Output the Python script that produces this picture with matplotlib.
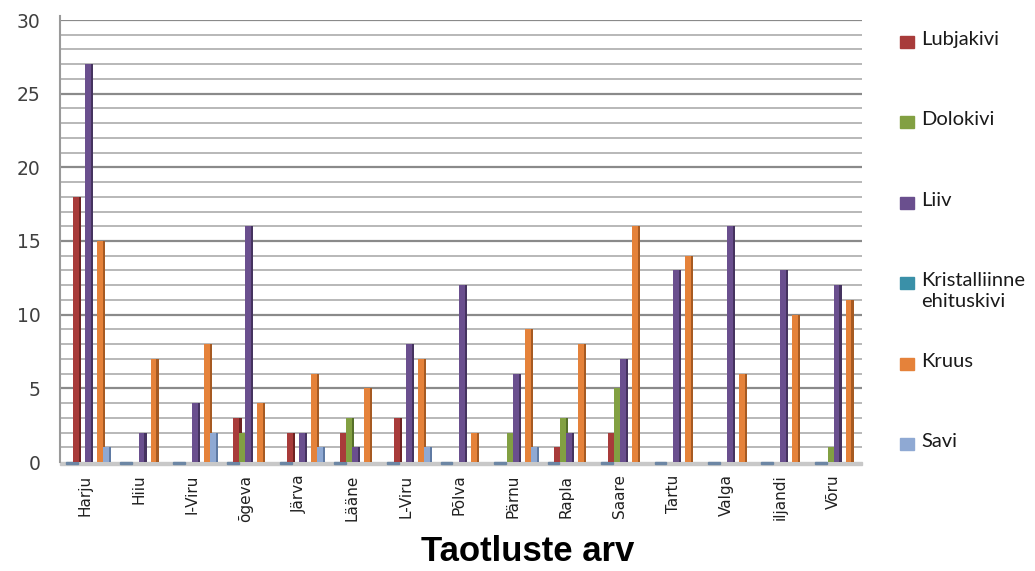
import numpy as np
import matplotlib.pyplot as plt
import matplotlib.transforms as mtransforms
from matplotlib.patches import Rectangle

# data
maakonnad = ["Harju", "Hiiu", "I-Viru", "õgeva", "Järva", "Lääne", "L-Viru", "Põlva",
             "Pärnu", "Rapla", "Saare", "Tartu", "Valga", "iljandi", "Võru"]
lubjakivi = [18, 0, 0, 3, 2, 2, 3, 0, 0, 1, 2, 0, 0, 0, 0]
dolokivi = [0, 0, 0, 2, 0, 3, 0, 0, 2, 3, 5, 0, 0, 0, 1]
liiv = [27, 2, 4, 16, 2, 1, 8, 12, 6, 2, 7, 13, 16, 13, 12]
kristalliinne = [0] * 15
kruus = [15, 7, 8, 4, 6, 5, 7, 2, 9, 8, 16, 14, 6, 10, 11]
savi = [1, 0, 2, 0, 1, 0, 1, 0, 1, 0, 0, 0, 0, 0, 0]

series_names = ["Lubjakivi", "Dolokivi", "Liiv", "Kristalliinne\nehituskivi", "Kruus", "Savi"]
series_vals = [lubjakivi, dolokivi, liiv, kristalliinne, kruus, savi]
front = ["#a83b3a", "#82a042", "#6a4f8e", "#3a90a8", "#e5823a", "#8fa9d3"]
side = ["#6e2322", "#56702a", "#45335f", "#266070", "#a65a22", "#5f7aa3"]

W, H = 1035, 571
fig = plt.figure(figsize=(W / 100, H / 100), dpi=100)
ax = fig.add_axes([60 / W, 1 - 462 / H, 802 / W, 442 / H])

x = np.arange(len(maakonnad))
step = 0.112
w = 0.15

# gridlines (every unit, darker every 5)
for v in range(1, 31):
    if v % 5 == 0:
        ax.axhline(v, color="#8a8a8a", lw=1.6, zorder=0)
    else:
        ax.axhline(v, color="#b8b8b8", lw=1.4, zorder=0)

# floor strip + small tiles
ax.add_patch(Rectangle((-0.6, -0.18), 15.0, 0.18, color="#c8c8c8", clip_on=False, zorder=1))
for i in x:
    ax.add_patch(Rectangle((i - 0.48, -0.12), 0.22, 0.14, color="#6c86a4",
                           clip_on=False, zorder=2))

for k, vals in enumerate(series_vals):
    pos = x + (k - 2.5) * step
    vals = np.array(vals)
    m = vals > 0
    ax.bar(pos[m], vals[m], width=w, color=front[k], zorder=3 + k, linewidth=0)
    # darker side face for the 3d look
    ax.bar(pos[m] + w / 2 - 0.02, vals[m], width=0.04, color=side[k], zorder=3 + k,
           linewidth=0)

ax.set_xlim(-0.6, 14.4)
ax.set_ylim(0, 30)
ax.set_yticks(range(0, 31, 5))
ax.tick_params(axis="y", length=0, pad=14, labelsize=13.5, labelcolor="#404040")
ax.set_xticks(x)
ax.set_xticklabels(maakonnad, rotation=90, fontsize=11, color="#202020")
ax.tick_params(axis="x", length=0, pad=9)
shift = mtransforms.ScaledTranslation(-7 / 100, 0, fig.dpi_scale_trans)
for lab in ax.get_xticklabels():
    lab.set_transform(lab.get_transform() + shift)
    lab.set_va("top")

for s in ["top", "right", "bottom"]:
    ax.spines[s].set_visible(False)
ax.spines["left"].set_color("#9a9a9a")
ax.spines["left"].set_linewidth(1.5)
ax.spines["left"].set_bounds(0, 30.3)

# legend drawn by hand to keep Excel's spacing
for k, name in enumerate(series_names):
    yc = 1 - (42 + 80.4 * k) / H
    fig.patches.append(Rectangle((900 / W, yc - 6 / H), 14 / W, 12 / H,
                                 color=front[k], transform=fig.transFigure, figure=fig))
    fig.text(921 / W, yc + 11 / H, name, fontsize=14.5, family=["Lato", "DejaVu Sans"],
             color="#1a1a1a", va="top", ha="left", linespacing=1.3)

fig.text(528 / W, 10 / H, "Taotluste arv", fontsize=25, fontweight="bold",
         family=["Liberation Sans", "DejaVu Sans"], ha="center", va="baseline")

fig.savefig("out.png", dpi=100)
